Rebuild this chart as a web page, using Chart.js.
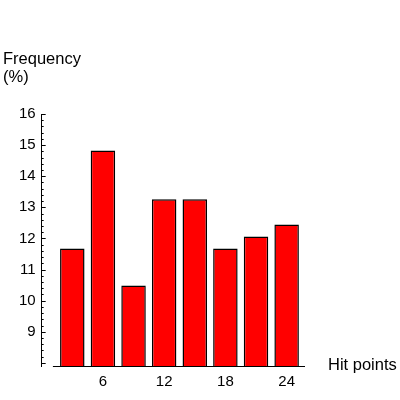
<!DOCTYPE html>
<html>
<head>
<meta charset="utf-8">
<script src="https://cdn.jsdelivr.net/npm/chart.js@4.4.1/dist/chart.umd.min.js"></script>
<style>
  html, body { margin: 0; padding: 0; background: #ffffff; }
  #wrap { position: relative; width: 400px; height: 400px; }
  .lbl { position: absolute; font-family: 'Liberation Sans', Arial, sans-serif; font-size: 16.5px; line-height: 18px; color: #000; }
</style>
</head>
<body>
<div id="wrap">
  <canvas id="freqChart" width="400" height="400"></canvas>
  <div class="lbl" style="left:3px; top:49px;">Frequency<br>(%)</div>
  <div class="lbl" style="left:328px; top:355px;">Hit points</div>
</div>
<script>
'use strict';

/* ── Data ───────────────────────────────────────── */
var hitPoints = [3, 6, 9, 12, 15, 18, 21, 24];
var frequency = [11.68, 14.83, 10.49, 13.26, 13.26, 11.68, 12.06, 12.45];
var xTicks    = [6, 12, 18, 24];
var yTicks    = [9, 10, 11, 12, 13, 14, 15, 16];

var FONT = "'Liberation Sans', Arial, sans-serif";

/* ── Axis decoration: inward ticks on y, detached x baseline ── */
var axisDeco = {
  id: 'axisDeco',
  afterDraw: function (chart) {
    var ctx = chart.ctx, x = chart.scales.x, y = chart.scales.y;
    var ax = chart.chartArea.left;
    ctx.save();
    ctx.strokeStyle = '#000';
    ctx.lineWidth = 1;
    for (var i = 0; i <= 40; i++) {
      var v = 8 + i * 0.2;
      if (v > y.max + 1e-6) break;
      var py = Math.round(y.getPixelForValue(v)) + 0.5;
      var len = (i % 5 === 0) ? 4 : 2;
      ctx.beginPath();
      ctx.moveTo(ax, py);
      ctx.lineTo(ax + len, py);
      ctx.stroke();
    }
    var by = Math.round(chart.chartArea.bottom) + 0.5;
    ctx.beginPath();
    ctx.moveTo(x.getPixelForValue(1.1), by);
    ctx.lineTo(chart.chartArea.right, by);
    ctx.stroke();
    ctx.restore();
  }
};

new Chart(document.getElementById('freqChart'), {
  type: 'bar',
  data: {
    datasets: [{
      data: hitPoints.map(function (h, i) { return { x: h, y: frequency[i] }; }),
      backgroundColor: '#ff0000',
      borderColor: '#000000',
      borderWidth: 1.5,
      barPercentage: 0.8,
      categoryPercentage: 1.0
    }]
  },
  options: {
    responsive: false,
    animation: false,
    layout: { padding: { left: 13, top: 114, right: 95, bottom: 2 } },
    plugins: { legend: { display: false }, tooltip: { enabled: false } },
    scales: {
      x: {
        type: 'linear', min: 0, max: 25.8, offset: false,
        afterBuildTicks: function (s) { s.ticks = xTicks.map(function (v) { return { value: v }; }); },
        ticks: { color: '#000', font: { family: FONT, size: 15 }, padding: 7, maxRotation: 0 },
        grid: { display: false, drawTicks: false, offset: false },
        border: { display: false }
      },
      y: {
        min: 7.9, max: 16,
        afterBuildTicks: function (s) { s.ticks = yTicks.map(function (v) { return { value: v }; }); },
        ticks: { color: '#000', font: { family: FONT, size: 15 }, padding: 6 },
        grid: { display: false, drawTicks: false },
        border: { display: true, color: '#000', width: 1 }
      }
    }
  },
  plugins: [axisDeco]
});
</script>
</body>
</html>
